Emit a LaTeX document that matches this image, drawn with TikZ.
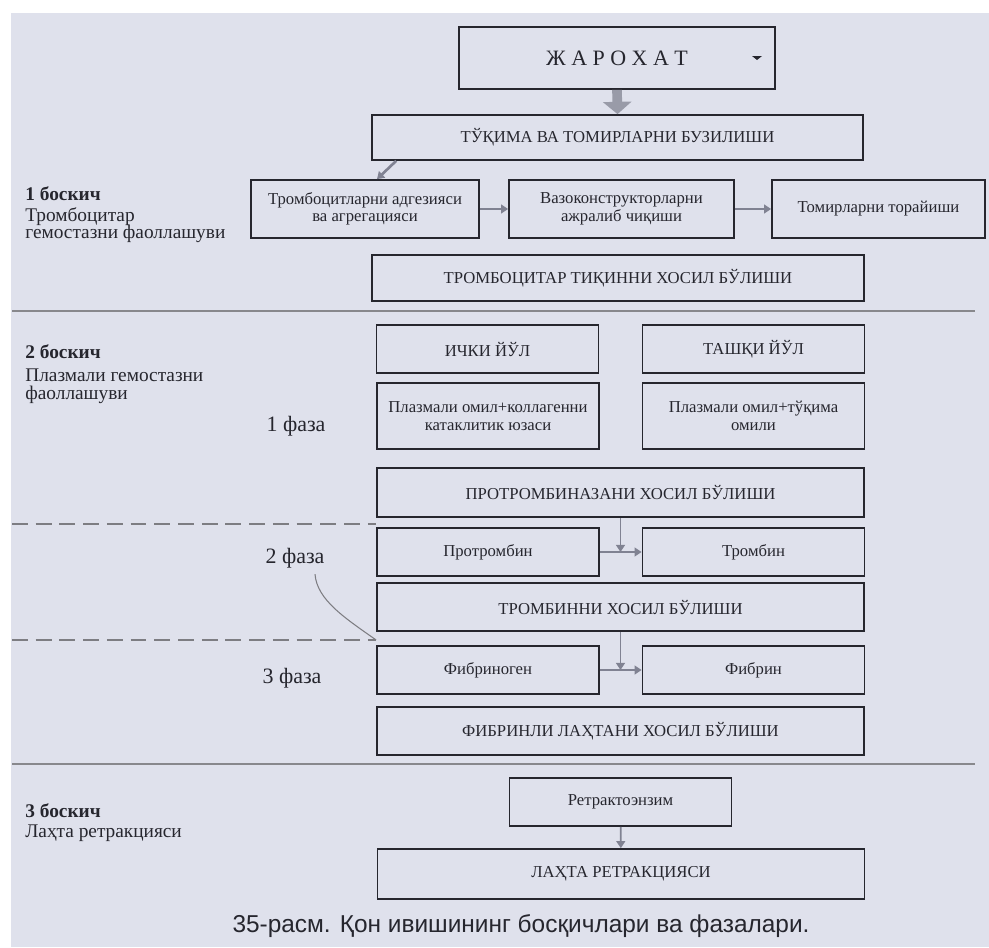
\documentclass[tikz,border=0pt]{standalone}
\usepackage{fontspec}
\setmainfont{Liberation Serif}
\newfontfamily\capfont{Liberation Sans}
\usetikzlibrary{arrows.meta,positioning,calc}
\definecolor{paper}{RGB}{223,225,236}
\definecolor{ink}{RGB}{38,38,46}
\definecolor{linkgray}{RGB}{128,130,146}
\tikzset{
    box/.style = {
        draw = ink,
        line width = 1pt,
        text = ink,
        align = center,
        inner sep = 1pt,
        font = \fontsize{9.5}{10}\selectfont,
        },
    half box/.style = {
        box,
        minimum width = 4.44cm,
        minimum height = 0.96cm,
        },
    wide box/.style = {
        box,
        minimum width = 9.74cm,
        minimum height = 0.96cm,
        },
    link/.style = {
        draw = linkgray,
        line width = 1.5pt,
        -{Triangle[length=4pt,width=5pt]},
        },
    big arrow/.style = {
        draw = linkgray!80,
        line width = 5.5pt,
        -{Triangle[length=7pt,width=16pt]},
        },
    stage/.style = {
        anchor = west,
        inner sep = 0pt,
        text = ink,
        font = \fontsize{11}{11}\selectfont\bfseries,
        },
    stage text/.style = {
        anchor = west,
        text = ink,
        align = left,
        inner sep = 0pt,
        font = \fontsize{11}{10}\selectfont,
        },
    phase/.style = {
        text = ink,
        font = \fontsize{12.5}{13}\selectfont,
        },
    separator/.style = {
        draw = ink!55,
        line width = 0.8pt,
        },
    phase line/.style = {
        draw = ink!60,
        line width = 0.9pt,
        dash pattern = on 9pt off 4.5pt,
        },
}

\begin{document}
\begin{tikzpicture}[x=0.02cm, y=-0.02cm]
    \useasboundingbox (0,0) rectangle (989,947);
    \fill[white] (0,0) rectangle (989,947);
    \fill[paper] (11,13) rectangle (989,947);

    % boxes
    \node[box, minimum width=6.32cm, minimum height=1.24cm, font=\fontsize{12.5}{13}\selectfont] (zharohat) at (617,58) {Ж А Р О Х А Т};
    \fill[ink] (752,56) -- (762,56) -- (757,60) -- cycle;
    \node[wide box, minimum width=9.82cm, minimum height=0.9cm] (tuk) at (617.5,137.5) {ТЎҚИМА ВА ТОМИРЛАРНИ БУЗИЛИШИ};
    \node[box, minimum width=4.56cm, minimum height=1.16cm] (tromb) at (365,209) {Тромбоцитларни адгезияси\\ва агрегацияси};
    \node[box, minimum width=4.5cm, minimum height=1.16cm] (vazo) at (621.5,209) {Вазоконструкторларни\\ажралиб чиқиши};
    \node[box, minimum width=4.26cm, minimum height=1.16cm] (tomir) at (878.5,209) {Томирларни торайиши};
    \node[wide box, minimum width=9.84cm, minimum height=0.92cm] (tiqin) at (618,278) {ТРОМБОЦИТАР ТИҚИННИ ХОСИЛ БЎЛИШИ};
    \node[half box] (ichki) at (487.5,349) {ИЧКИ ЙЎЛ};
    \node[half box] (tashqi) at (753.5,349) {ТАШҚИ ЙЎЛ};
    \node[half box, minimum height=1.32cm] (plazma1) at (488,416) {Плазмали омил+коллагенни\\катаклитик юзаси};
    \node[half box, minimum height=1.32cm] (plazma2) at (753.5,416) {Плазмали омил+тўқима\\омили};
    \node[wide box, minimum height=0.98cm] (protrombinaza) at (620.5,492.5) {ПРОТРОМБИНАЗАНИ ХОСИЛ БЎЛИШИ};
    \node[half box] (protrombin) at (488,552) {Протромбин};
    \node[half box] (trombin) at (753.5,552) {Тромбин};
    \node[wide box] (trombinni) at (620.5,607) {ТРОМБИННИ ХОСИЛ БЎЛИШИ};
    \node[half box] (fibrinogen) at (488,670) {Фибриноген};
    \node[half box] (fibrin) at (753.5,670) {Фибрин};
    \node[wide box] (fibrinli) at (620.5,731) {ФИБРИНЛИ ЛАҲТАНИ ХОСИЛ БЎЛИШИ};
    \node[half box] (retrakto) at (620.5,802) {Ретрактоэнзим};
    \node[wide box, minimum height=1cm] (lahta) at (621,874) {ЛАҲТА РЕТРАКЦИЯСИ};

    % stages and phases
    \node[stage] (bosqich1) at (25,194) {1 боскич};
    \node[stage text] (bosqich1 text) at (25,225) {Тромбоцитар\\гемостазни фаоллашуви};
    \node[stage] (bosqich2) at (25,352) {2 боскич};
    \node[stage text] (bosqich2 text) at (25,386) {Плазмали гемостазни\\фаоллашуви};
    \node[stage] (bosqich3) at (25,811) {3 боскич};
    \node[stage text] (bosqich3 text) at (25,833) {Лаҳта ретракцияси};
    \node[phase] (faza1) at (296,426) {1 фаза};
    \node[phase] (faza2) at (295,558) {2 фаза};
    \node[phase] (faza3) at (292,678) {3 фаза};

    % separators
    \coordinate (sep1) at (12,311);
    \coordinate (sep2) at (12,764);
    \coordinate (dash1) at (12,524);
    \coordinate (dash2) at (12,640);
    \draw[separator] (sep1) -- ++(963,0);
    \draw[separator] (sep2) -- ++(963,0);
    \draw[phase line] (dash1) -- (dash1 -| protrombin.west);
    \draw[phase line] (dash2) -- (dash2 -| fibrinogen.west);
    \draw[ink!60, line width=0.6pt] ([xshift=0.4cm]faza2.south) .. controls (317,600) and (345,618) .. (dash2 -| fibrinogen.west);

    % arrows
    \draw[big arrow] (zharohat.south) -- (tuk.north);
    \draw[link] ([xshift=0.5cm]tuk.south west) -- ([xshift=0.24cm]tromb.north);
    \draw[link] (tromb) -- (vazo);
    \draw[link] (vazo) -- (tomir);
    \coordinate (t1) at (protrombinaza.south |- protrombin.east);
    \draw[link, line width=1pt] (protrombinaza.south) -- (t1);
    \draw[link] (protrombin) -- (trombin);
    \coordinate (t2) at (trombinni.south |- fibrinogen.east);
    \draw[link, line width=1pt] (trombinni.south) -- (t2);
    \draw[link] (fibrinogen) -- (fibrin);
    \draw[link, line width=1pt] (retrakto) -- (lahta);

    \node[font=\capfont\fontsize{13.9}{14}\selectfont, text=ink] (caption) at (521,926) {35-расм. Қон ивишининг босқичлари ва фазалари.};
\end{tikzpicture}
\end{document}
